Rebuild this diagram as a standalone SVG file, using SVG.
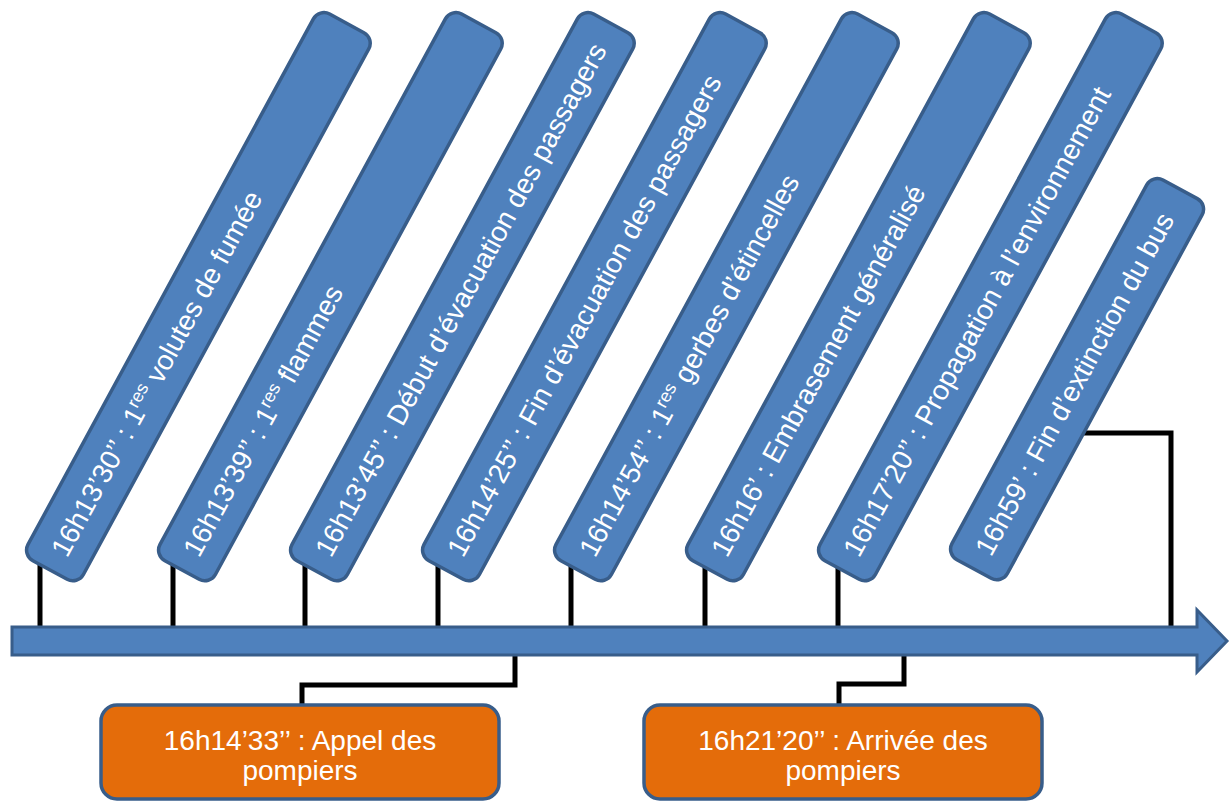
<svg xmlns="http://www.w3.org/2000/svg" width="1231" height="802" viewBox="0 0 1231 802">
<defs>
<style>
.bar{fill:#4F81BD;stroke:#385D8A;stroke-width:3.5}
.box{fill:#E46C0A;stroke:#385D8A;stroke-width:3.5}
.lbl{font-family:"Liberation Sans",Arial,sans-serif;font-size:28px;fill:#FFFFFF}
.sup{font-size:18px}
.con{fill:none;stroke:#000000;stroke-width:5;stroke-linejoin:miter}
</style>
</defs>
<rect width="1231" height="802" fill="#FFFFFF"/>
<g id="connectors">
<path class="con" d="M40,565 V629"/>
<path class="con" d="M173,565 V629"/>
<path class="con" d="M305,565 V629"/>
<path class="con" d="M438,565 V629"/>
<path class="con" d="M571,565 V629"/>
<path class="con" d="M705,565 V629"/>
<path class="con" d="M838,565 V629"/>
<path class="con" d="M1080,433 H1171 V629"/>
<path class="con" d="M515,652 V685 H302 V706"/>
<path class="con" d="M904,652 V684 H839 V706"/>
</g>
<g id="axis">
<path d="M12,627 H1197 V610 L1227,641 L1197,672 V655 H12 Z" fill="#4F81BD" stroke="#385D8A" stroke-width="3"/>
</g>
<g id="e1" transform="translate(50,570) rotate(-61.5)">
<rect class="bar" x="0" y="-31.5" width="622" height="63" rx="12"/>
<text class="lbl" x="18" y="9.7">16h13’30’’ : 1<tspan class="sup" dy="-10">res</tspan><tspan dy="10"> volutes de fumée</tspan></text>
</g>
<g id="e2" transform="translate(182,570) rotate(-61.5)">
<rect class="bar" x="0" y="-31.5" width="622" height="63" rx="12"/>
<text class="lbl" x="18" y="9.7">16h13’39’’ : 1<tspan class="sup" dy="-10">res</tspan><tspan dy="10"> flammes</tspan></text>
</g>
<g id="e3" transform="translate(314,570) rotate(-61.5)">
<rect class="bar" x="0" y="-31.5" width="622" height="63" rx="12"/>
<text class="lbl" x="18" y="9.7">16h13’45’’ : Début d’évacuation des passagers</text>
</g>
<g id="e4" transform="translate(446,570) rotate(-61.5)">
<rect class="bar" x="0" y="-31.5" width="622" height="63" rx="12"/>
<text class="lbl" x="18" y="9.7">16h14’25’’ : Fin d’évacuation des passagers</text>
</g>
<g id="e5" transform="translate(578,570) rotate(-61.5)">
<rect class="bar" x="0" y="-31.5" width="622" height="63" rx="12"/>
<text class="lbl" x="18" y="9.7">16h14’54’’ : 1<tspan class="sup" dy="-10">res</tspan><tspan dy="10"> gerbes d’étincelles</tspan></text>
</g>
<g id="e6" transform="translate(710,570) rotate(-61.5)">
<rect class="bar" x="0" y="-31.5" width="622" height="63" rx="12"/>
<text class="lbl" x="18" y="9.7">16h16’ : Embrasement généralisé</text>
</g>
<g id="e7" transform="translate(842,570) rotate(-61.5)">
<rect class="bar" x="0" y="-31.5" width="622" height="63" rx="12"/>
<text class="lbl" x="18" y="9.7">16h17’20’’ : Propagation à l’environnement</text>
</g>
<g id="e8" transform="translate(974,569) rotate(-61.5)">
<rect class="bar" x="0" y="-31.5" width="432" height="63" rx="12"/>
<text class="lbl" x="18" y="9.7">16h59’ : Fin d’extinction du bus</text>
</g>
<g id="b1">
<rect class="box" x="101" y="705" width="398" height="94" rx="16"/>
<text class="lbl" x="300" y="750" text-anchor="middle">16h14’33’’ : Appel des</text>
<text class="lbl" x="300" y="779.5" text-anchor="middle">pompiers</text>
</g>
<g id="b2">
<rect class="box" x="644" y="705" width="398" height="94" rx="16"/>
<text class="lbl" x="843" y="750" text-anchor="middle">16h21’20’’ : Arrivée des</text>
<text class="lbl" x="843" y="779.5" text-anchor="middle">pompiers</text>
</g>
</svg>
